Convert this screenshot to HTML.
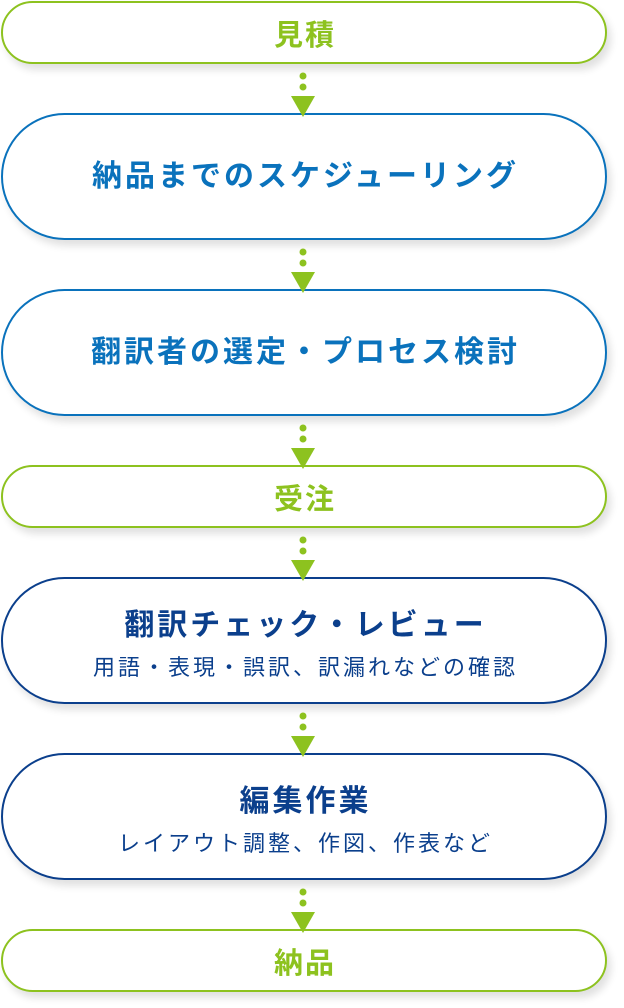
<!DOCTYPE html>
<html><head><meta charset="utf-8"><style>
body{margin:0;width:624px;height:1008px;background:#fff;position:relative;font-family:"Liberation Sans","Noto Sans CJK JP",sans-serif;overflow:hidden}
.b{position:absolute;left:1px;width:606px;box-sizing:border-box;border:2px solid;border-radius:64px;background:#fff;box-shadow:4px 6px 8px rgba(0,0,0,0.12);display:flex;flex-direction:column;align-items:center;justify-content:center;font-weight:bold;letter-spacing:3px;padding-left:3px}
.g{border-color:#8dc21f;color:#8dc21f;font-size:29px;height:63px;letter-spacing:2px;padding-left:2px}
.bl{border-color:#0a72bc;color:#0a72bc;font-size:30px;height:127px;padding-bottom:8px}
.n{border-color:#0b3f8c;color:#0b3f8c;font-size:30px;height:127px}
.s{font-size:22px;font-weight:normal;letter-spacing:3px;margin-top:6px}
.a{position:absolute;left:291px;width:24px;height:46px}
</style></head><body>
<div class="b g" style="top:1px">見積</div>
<div class="b bl" style="top:113px">納品までのスケジューリング</div>
<div class="b bl" style="top:289px">翻訳者の選定・プロセス検討</div>
<div class="b g" style="top:465px">受注</div>
<div class="b n" style="top:577px">翻訳チェック・レビュー<div class="s">用語・表現・誤訳、訳漏れなどの確認</div></div>
<div class="b n" style="top:753px">編集作業<div class="s">レイアウト調整、作図、作表など</div></div>
<div class="b g" style="top:929px">納品</div>
<svg class="a" style="top:71px" viewBox="0 0 24 46"><circle cx="12" cy="5" r="3.5" fill="#8dc21f"/><circle cx="12" cy="16" r="3.5" fill="#8dc21f"/><path d="M0 25H24L12 46Z" fill="#8dc21f"/></svg>
<svg class="a" style="top:247px" viewBox="0 0 24 46"><circle cx="12" cy="5" r="3.5" fill="#8dc21f"/><circle cx="12" cy="16" r="3.5" fill="#8dc21f"/><path d="M0 25H24L12 46Z" fill="#8dc21f"/></svg>
<svg class="a" style="top:423px" viewBox="0 0 24 46"><circle cx="12" cy="5" r="3.5" fill="#8dc21f"/><circle cx="12" cy="16" r="3.5" fill="#8dc21f"/><path d="M0 25H24L12 46Z" fill="#8dc21f"/></svg>
<svg class="a" style="top:535px" viewBox="0 0 24 46"><circle cx="12" cy="5" r="3.5" fill="#8dc21f"/><circle cx="12" cy="16" r="3.5" fill="#8dc21f"/><path d="M0 25H24L12 46Z" fill="#8dc21f"/></svg>
<svg class="a" style="top:711px" viewBox="0 0 24 46"><circle cx="12" cy="5" r="3.5" fill="#8dc21f"/><circle cx="12" cy="16" r="3.5" fill="#8dc21f"/><path d="M0 25H24L12 46Z" fill="#8dc21f"/></svg>
<svg class="a" style="top:887px" viewBox="0 0 24 46"><circle cx="12" cy="5" r="3.5" fill="#8dc21f"/><circle cx="12" cy="16" r="3.5" fill="#8dc21f"/><path d="M0 25H24L12 46Z" fill="#8dc21f"/></svg>
</body></html>
